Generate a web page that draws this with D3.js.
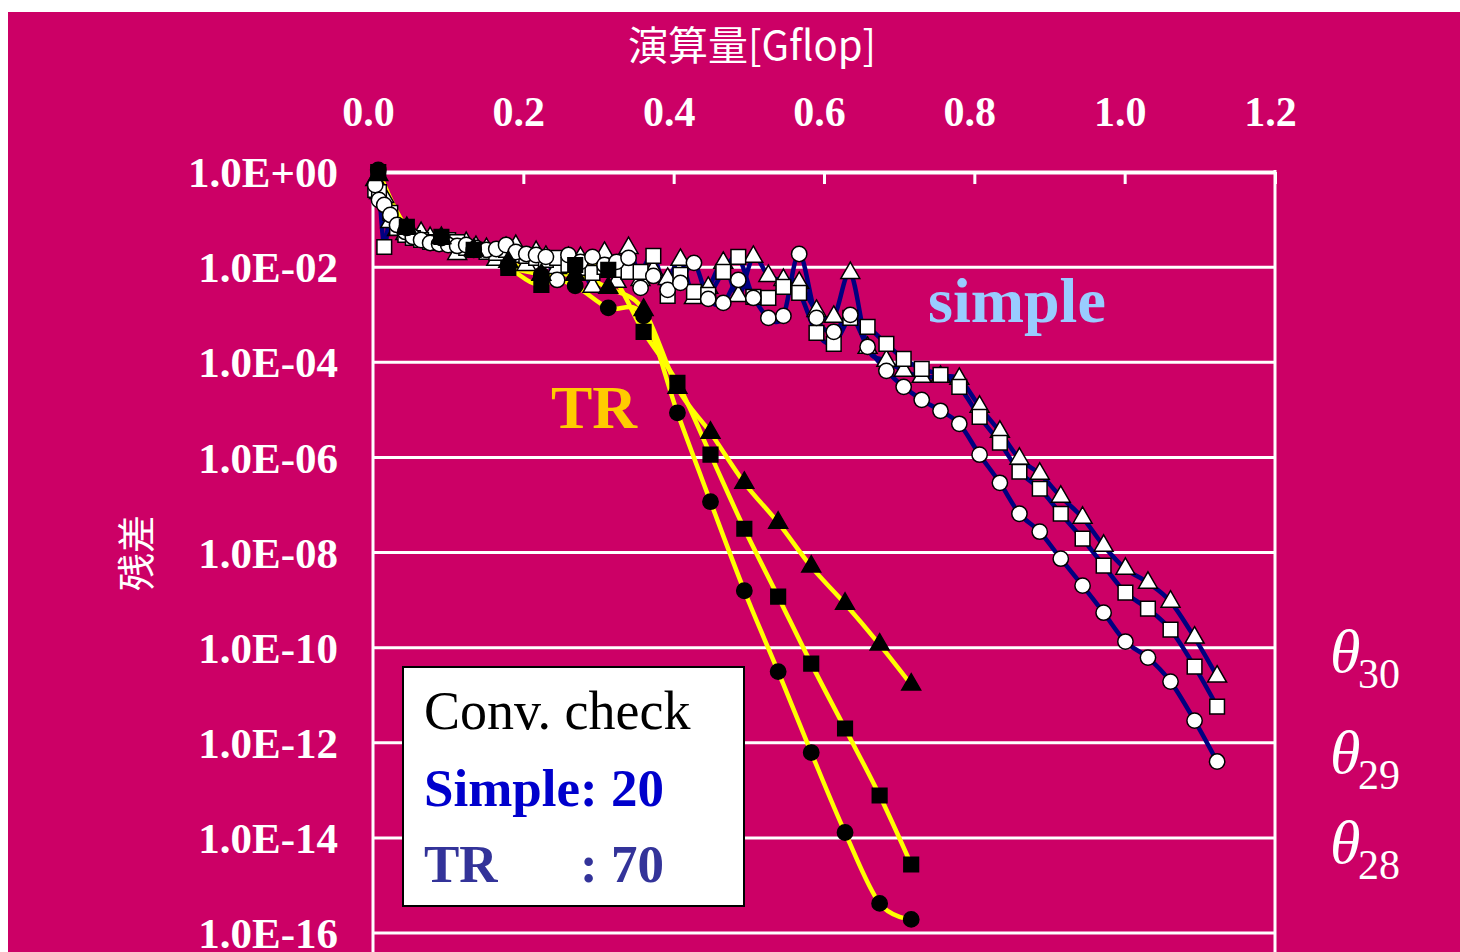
<!DOCTYPE html>
<html><head><meta charset="utf-8">
<script src="https://cdn.jsdelivr.net/npm/d3@7"></script>
<style>body{margin:0;background:#fff;} svg{display:block;}</style>
</head><body>
<svg id="chart" width="1460" height="952"></svg>
<script>
// ---------- data ----------
const xTicks = [0, 0.2, 0.4, 0.6, 0.8, 1.0, 1.2];
const yTicks = [1e0, 1e-2, 1e-4, 1e-6, 1e-8, 1e-10, 1e-12, 1e-14, 1e-16];
const yTickLabels = ["1.0E+00","1.0E-02","1.0E-04","1.0E-06","1.0E-08","1.0E-10","1.0E-12","1.0E-14","1.0E-16"];

// simple method (Gflop per check point)
const simpleFlops = [0.003,0.008,0.015,0.023,0.032,0.043,0.053,0.064,0.076,0.088,0.100,0.112,0.124,0.137,0.151,0.164,0.177,0.190,0.204,0.217,0.230,0.245,0.260,0.276,0.292,0.308,0.324,0.340,0.356,0.373,0.392,0.409,0.427,0.446,0.466,0.486,0.506,0.526,0.546,0.567,0.590,0.613,0.635,0.658,0.683,0.706,0.730,0.755,0.780,0.807,0.834,0.860,0.887,0.915,0.944,0.972,1.001,1.031,1.061,1.093,1.123];
const simpleTheta28 = [0.533,0.258,0.203,0.125,0.0771,0.0549,0.0431,0.0372,0.0322,0.0307,0.0292,0.0279,0.0292,0.0253,0.0230,0.0241,0.0292,0.0208,0.0189,0.0180,0.0164,0.00538,0.0180,0.0129,0.0164,0.0111,0.0129,0.0156,0.00366,0.00653,0.00332,0.00466,0.0123,0.00215,0.00177,0.00538,0.00225,0.000857,0.000944,0.0189,0.000857,0.000436,0.000991,0.000211,6.59e-5,3.04e-5,1.62e-5,9.53e-6,5.08e-6,1.14e-6,2.92e-7,6.53e-8,2.74e-8,7.41e-9,2.01e-9,5.43e-10,1.34e-10,6.17e-11,1.93e-11,2.92e-12,4.03e-13];
const simpleTheta29 = [0.419,0.380,0.0265,0.138,0.0667,0.0474,0.0410,0.0372,0.0338,0.0322,0.0372,0.0338,0.0253,0.0230,0.0208,0.0199,0.0230,0.0180,0.0172,0.0156,0.0142,0.0156,0.0111,0.00962,0.00755,0.0101,0.00873,0.00793,0.00793,0.0172,0.00248,0.00686,0.00301,0.00261,0.00793,0.0164,0.00237,0.00225,0.00384,0.00287,0.000415,0.000244,0.000857,0.000555,0.000244,0.000118,7.26e-5,5.43e-5,3.04e-5,7.13e-6,2.03e-6,4.98e-7,2.19e-7,6.53e-8,1.95e-8,5.28e-9,1.43e-9,6.59e-10,2.39e-10,3.99e-11,5.77e-12];
const simpleTheta30 = [0.679,0.362,0.298,0.0891,0.0605,0.0498,0.0452,0.0523,0.0410,0.0355,0.0307,0.0189,0.0322,0.0265,0.0241,0.0142,0.0253,0.0279,0.0111,0.0208,0.0164,0.00962,0.0156,0.0156,0.00384,0.0199,0.00489,0.0253,0.00538,0.00873,0.00565,0.0142,0.00225,0.00366,0.0123,0.00248,0.0164,0.00653,0.00538,0.00466,0.00120,0.000899,0.00755,0.000201,0.000107,6.59e-5,4.93e-5,4.93e-5,4.48e-5,1.16e-5,3.45e-6,9.35e-7,4.52e-7,1.49e-7,5.38e-8,1.39e-8,4.57e-9,2.32e-9,9.25e-10,1.62e-10,2.46e-11];

// TR method
const trFlops = [0.007,0.045,0.091,0.134,0.180,0.224,0.269,0.313,0.360,0.405,0.449,0.494,0.539,0.583,0.628,0.674,0.716];
const trTheta28 = [1.10,0.0667,0.0410,0.0230,0.0101,0.00686,0.00403,0.00139,0.000944,8.65e-6,1.17e-7,1.57e-9,3.13e-11,6.22e-13,1.30e-14,4.19e-16,1.93e-16];
const trTheta29 = [1.0,0.0700,0.0431,0.0230,0.00962,0.00423,0.0111,0.00873,0.000436,3.69e-5,1.14e-6,3.16e-8,1.18e-9,4.61e-11,1.99e-12,7.78e-14,2.76e-15];
const trTheta30 = [0.865,0.0667,0.0410,0.0230,0.0129,0.00686,0.00686,0.00366,0.00126,2.90e-5,3.29e-6,2.92e-7,4.23e-8,5.04e-9,8.39e-10,1.16e-10,1.67e-11];

// ---------- chart ----------
const svg = d3.select("#chart");
const BG = "#CC0066";
const serif = "'Liberation Serif','Times New Roman',serif";
const cjk = "'Noto Sans CJK JP','Noto Sans CJK SC',sans-serif";

svg.append("rect").attr("x",8).attr("y",12).attr("width",1452).attr("height",940).attr("fill",BG);

const x = d3.scaleLinear().domain([0,1.2]).range([373,1275]);
const y = d3.scaleLog().domain([1,1e-16]).range([172,933]);

// gridlines
svg.append("g").selectAll("line").data(yTicks.slice(1)).join("line")
  .attr("x1",373).attr("x2",1275).attr("y1",d=>y(d)).attr("y2",d=>y(d))
  .attr("stroke","#fff").attr("stroke-width",3);
// left / right borders
svg.append("line").attr("x1",x(0)).attr("x2",x(0)).attr("y1",170).attr("y2",952).attr("stroke","#fff").attr("stroke-width",3);
svg.append("line").attr("x1",x(1.2)).attr("x2",x(1.2)).attr("y1",170).attr("y2",952).attr("stroke","#fff").attr("stroke-width",3);

// top x axis
const xAxis = svg.append("g").attr("transform",`translate(0,${y(1)})`)
  .call(d3.axisTop(x).tickValues(xTicks).tickFormat(d3.format(".1f")).tickSizeInner(-12).tickSizeOuter(0).tickPadding(46));
xAxis.select(".domain").attr("stroke","#fff").attr("stroke-width",4);
xAxis.selectAll(".tick line").attr("stroke","#fff").attr("stroke-width",3);
xAxis.selectAll(".tick text").attr("fill","#fff").attr("dx",-5)
  .style("font-family",serif).style("font-weight","bold").style("font-size","42px");

// left y axis labels
const yAxis = svg.append("g").attr("transform",`translate(${x(0)},0)`)
  .call(d3.axisLeft(y).tickValues(yTicks).tickFormat((d,i)=>yTickLabels[i]).tickSize(0).tickPadding(35));
yAxis.select(".domain").remove();
yAxis.selectAll(".tick text").attr("fill","#fff").attr("dy","0.34em")
  .style("font-family",serif).style("font-weight","bold").style("font-size","43px");

// axis titles
svg.append("text").attr("x",752).attr("y",60).attr("text-anchor","middle")
  .attr("fill","#fff").style("font-family",cjk).style("font-size","40px").text("演算量[Gflop]");
svg.append("text").attr("transform","translate(150,553) rotate(-90)").attr("text-anchor","middle")
  .attr("fill","#fff").style("font-family",cjk).style("font-size","38px").text("残差");

// series
const series = [
  {flops: simpleFlops, vals: simpleTheta30, line:"#000080", fill:"#fff", sym:d3.symbolTriangle, size:155},
  {flops: simpleFlops, vals: simpleTheta29, line:"#000080", fill:"#fff", sym:d3.symbolSquare, size:215},
  {flops: simpleFlops, vals: simpleTheta28, line:"#000080", fill:"#fff", sym:d3.symbolCircle, size:185},
  {flops: trFlops, vals: trTheta30, line:"#FFFF00", fill:"#000", sym:d3.symbolTriangle, size:155},
  {flops: trFlops, vals: trTheta29, line:"#FFFF00", fill:"#000", sym:d3.symbolSquare, size:215},
  {flops: trFlops, vals: trTheta28, line:"#FFFF00", fill:"#000", sym:d3.symbolCircle, size:185},
];
const lineGen = d3.line().x(d=>x(d[0])).y(d=>y(d[1])).curve(d3.curveCatmullRom.alpha(0));
series.forEach(s=>{
  const pts = s.flops.map((f,i)=>[f,s.vals[i]]);
  svg.append("path").datum(pts).attr("d",lineGen).attr("fill","none")
    .attr("stroke",s.line).attr("stroke-width",4.5).attr("stroke-linejoin","round");
});
series.forEach(s=>{
  const pts = s.flops.map((f,i)=>[f,s.vals[i]]);
  svg.append("g").selectAll("path").data(pts).join("path")
    .attr("transform",d=>`translate(${x(d[0])},${y(d[1])})`)
    .attr("d",d3.symbol().type(s.sym).size(s.size))
    .attr("fill",s.fill).attr("stroke","#000").attr("stroke-width",1.5);
});

// annotations
svg.append("text").attr("x",928).attr("y",322).attr("fill","#99CCFF")
  .style("font-family",serif).style("font-weight","bold").style("font-size","64px").text("simple");
svg.append("text").attr("x",551).attr("y",428).attr("fill","#FFCC00")
  .style("font-family",serif).style("font-weight","bold").style("font-size","62px").text("TR");

// legend box
svg.append("rect").attr("x",403).attr("y",667).attr("width",341).attr("height",239)
  .attr("fill","#fff").attr("stroke","#000").attr("stroke-width",2);
svg.append("text").attr("x",424).attr("y",729).attr("fill","#000")
  .style("font-family",serif).style("font-size","54px").text("Conv. check");
svg.append("text").attr("x",424).attr("y",806).attr("fill","#0000CC")
  .style("font-family",serif).style("font-weight","bold").style("font-size","53px").text("Simple: 20");
svg.append("text").attr("x",424).attr("y",882).attr("fill","#333399")
  .style("font-family",serif).style("font-weight","bold").style("font-size","53px").text("TR");
svg.append("text").attr("x",580).attr("y",882).attr("fill","#333399")
  .style("font-family",serif).style("font-weight","bold").style("font-size","53px").text(": 70");

// theta labels
const thetaLabels = [{sub:"30", y:672},{sub:"29", y:773},{sub:"28", y:863}];
thetaLabels.forEach(t=>{
  svg.append("text").attr("x",1330).attr("y",t.y).attr("fill","#fff")
    .style("font-family",serif).style("font-style","italic").style("font-size","62px").text("θ");
  svg.append("text").attr("x",1358).attr("y",t.y+16).attr("fill","#fff")
    .style("font-family",serif).style("font-size","42px").text(t.sub);
});
</script>
</body></html>
